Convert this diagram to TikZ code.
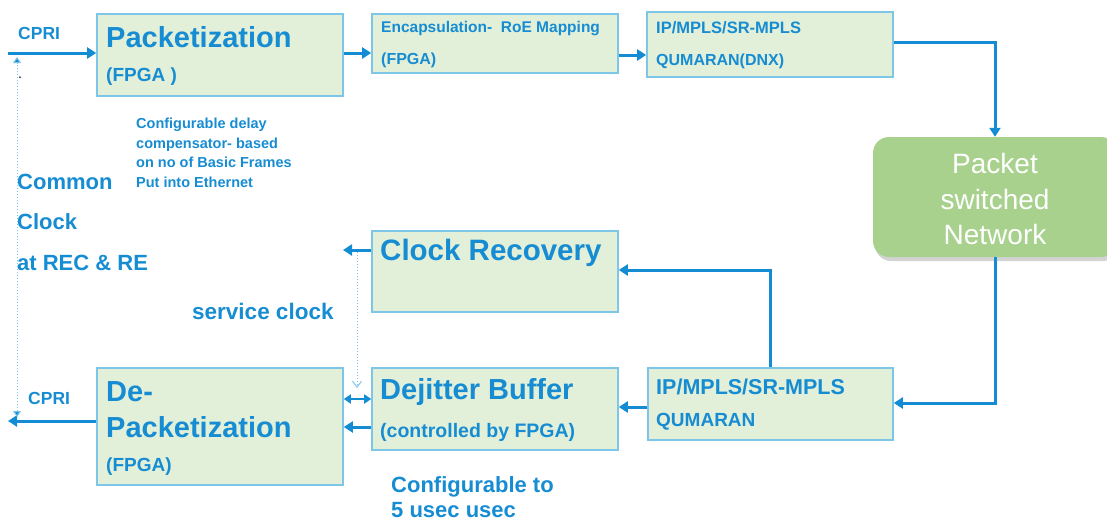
\documentclass[tikz,border=0pt]{standalone}
\usepackage{fontspec}
\setmainfont{Liberation Sans}
\usetikzlibrary{arrows.meta,shadows}
\definecolor{tblue}{RGB}{22,140,210}
\definecolor{ablue}{RGB}{20,140,212}
\definecolor{bfill}{RGB}{226,239,217}
\definecolor{bbord}{RGB}{125,198,232}
\definecolor{gfill}{RGB}{168,209,141}
\tikzset{
  box/.style={draw=bbord, fill=bfill, line width=1.6pt, inner sep=0pt},
  lbl/.style={text=tblue, inner sep=0pt, anchor=west, font=\bfseries},
  arr/.style={draw=ablue, line width=3pt, -{Triangle[length=9pt,width=11pt]}},
  thinarr/.style={draw=ablue, line width=2pt},
  dotline/.style={draw=bbord, line width=1pt, dotted},
}
\newcommand{\fs}[1]{\fontsize{#1}{#1}\selectfont}
\begin{document}
\begin{tikzpicture}[x=1pt,y=-1pt]
\useasboundingbox (0,0) rectangle (1107,522);
% boxes
\node[box, minimum width=246pt, minimum height=82pt] (pack) at (220,55) {};
\node[box, minimum width=246pt, minimum height=59pt] (enc) at (495,43.5) {};
\node[box, minimum width=246pt, minimum height=65pt] (iptop) at (770,44.5) {};
\node[box, minimum width=246pt, minimum height=81pt] (clk) at (495,271.5) {};
\node[box, minimum width=246pt, minimum height=82pt] (dej) at (495,409) {};
\node[box, minimum width=246pt, minimum height=117pt] (depack) at (220,426.5) {};
\node[box, minimum width=245pt, minimum height=72pt] (ipbot) at (770.5,404) {};
\node[fill=gfill, rounded corners=16pt, minimum width=244pt, minimum height=120pt, inner sep=0pt,
      drop shadow={opacity=0.35, shadow xshift=2pt, shadow yshift=-4pt}] (psn) at (995,197) {};
\node[text=white, align=center, font=\fs{28}\linespread{1.27}\selectfont, inner sep=0pt] (psnt) at (995,199)
  {Packet\\switched\\Network};

% texts
\node[lbl, font=\bfseries\fs{17.5}] (cpri1) at (18,33) {CPRI};
\node[lbl, font=\bfseries\fs{29}] (t1) at (106,37) {Packetization};
\node[lbl, font=\bfseries\fs{19}] (t2) at (106,77) {(FPGA )};
\node[lbl, font=\bfseries\fs{15.5}] (t3) at (381,29) {Encapsulation-\ \ RoE Mapping};
\node[lbl, font=\bfseries\fs{16}] (t4) at (381,60) {(FPGA)};
\node[lbl, font=\bfseries\fs{16.5}] (t5) at (656,28) {IP/MPLS/SR-MPLS};
\node[lbl, font=\bfseries\fs{16}] (t6) at (656,61) {QUMARAN(DNX)};
\node[lbl, anchor=north west, align=left, font=\bfseries\fontsize{14.5}{19.5}\selectfont] (t7) at (136,118)
  {Configurable delay\\compensator- based\\on no of Basic Frames\\Put into Ethernet};
\node[lbl, font=\bfseries\fs{22}] (t8) at (17,182) {Common};
\node[lbl, font=\bfseries\fs{22}] (t9) at (17,222) {Clock};
\node[lbl, font=\bfseries\fs{22}] (t10) at (17,263) {at REC \& RE};
\node[inner sep=0pt, font=\fs{14}] (dot) at (20,78) {.};
\node[lbl, font=\bfseries\fs{29.5}] (t11) at (380,253) {Clock Recovery};
\node[lbl, font=\bfseries\fs{22.5}] (t12) at (192,311) {service clock};
\node[lbl, font=\bfseries\fs{29}] (t13) at (380,392) {Dejitter Buffer};
\node[lbl, font=\bfseries\fs{19.5}] (t14) at (380,432) {(controlled by FPGA)};
\node[lbl, font=\bfseries\fs{29}] (t15) at (106,392) {De-};
\node[lbl, font=\bfseries\fs{29}] (t16) at (106,427) {Packetization};
\node[lbl, font=\bfseries\fs{19}] (t17) at (106,467) {(FPGA)};
\node[lbl, font=\bfseries\fs{17.5}] (cpri2) at (28,398) {CPRI};
\node[lbl, font=\bfseries\fs{21.5}] (t18) at (656,387) {IP/MPLS/SR-MPLS};
\node[lbl, font=\bfseries\fs{19}] (t19) at (656,422) {QUMARAN};
\node[lbl, font=\bfseries\fs{22}] (t20) at (391,487) {Configurable to};
\node[lbl, font=\bfseries\fs{22}] (t21) at (391,510) {5 usec usec};

% coordinates
\coordinate (cin) at (8,53);
\coordinate (cout) at (8,421);
\coordinate (crout) at (343,250);
\coordinate (d1) at (17,57);
\coordinate (d2) at (17,417);
\coordinate (s1) at (357,252);
\coordinate (s2) at (357,388);

% connectors
\draw[arr] (cin) -- (cin -| pack.west);
\draw[arr] (pack.east |- 0,53) -- (enc.west |- 0,53);
\draw[arr] (enc.east |- 0,55) -- (iptop.west |- 0,55);
\draw[arr] (iptop.east |- 0,42) -| (psn.north);
\draw[arr] (psn.south) |- (ipbot.east |- 0,403);
\draw[arr] (ipbot.west |- 0,407) -- (dej.east |- 0,407);
\draw[arr] (ipbot.north) |- (clk.east |- 0,270);
\draw[arr] (clk.west |- crout) -- (crout);
\draw[arr] (dej.west |- 0,427) -- (depack.east |- 0,427);
\draw[thinarr, {Triangle[length=7pt,width=9pt]}-{Triangle[length=7pt,width=9pt]}] (depack.east |- 0,399) -- (dej.west |- 0,399);
\draw[arr] (depack.west |- cout) -- (cout);
\draw[dotline, {Triangle[length=6pt,width=8pt,fill=ablue]}-{Triangle[length=6pt,width=8pt,fill=ablue]}, draw=bbord] (d2) -- (d1);
\draw[dotline, -{Straight Barb[length=6pt,width=9pt]}] (s1) -- (s2);
\end{tikzpicture}
\end{document}
